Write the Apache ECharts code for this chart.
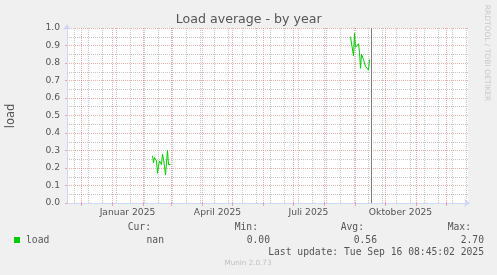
<!DOCTYPE html>
<html><head><meta charset="utf-8">
<script src="https://cdn.jsdelivr.net/npm/echarts@6/dist/echarts.min.js"></script>
<style>html,body{margin:0;padding:0;background:#f0f0f0}#c{width:497px;height:275px}</style>
</head><body><div id="c"></div>
<script>
// ---------- data ----------
const axisStart = '2024-11-17';
const axisEnd = '2025-12-23';
const monthStarts = ['2024-12-01','2025-01-01','2025-02-01','2025-03-01','2025-04-01','2025-05-01','2025-06-01',
  '2025-07-01','2025-08-01','2025-09-01','2025-10-01','2025-11-01','2025-12-01'];
const biweekly = ['2024-11-24','2024-12-08','2024-12-22','2025-01-05','2025-01-19','2025-02-02','2025-02-16',
  '2025-03-02','2025-03-16','2025-03-30','2025-04-13','2025-04-27','2025-05-11','2025-05-25','2025-06-08',
  '2025-06-22','2025-07-06','2025-07-20','2025-08-03','2025-08-17','2025-08-31','2025-09-14','2025-09-28',
  '2025-10-12','2025-10-26','2025-11-09','2025-11-23','2025-12-07','2025-12-21'];
const labelMonths = ['2025-01-01','2025-04-01','2025-07-01','2025-10-01'];
const labelTexts = ['Januar 2025','April 2025','Juli 2025','Oktober 2025'];
const seg1Start = '2025-02-10';
const seg1Values = [0.27,0.23,0.26,0.25,0.24,0.17,0.21,0.24,0.25,0.22,0.28,0.25,0.21,0.16,0.23,0.30,0.22,0.22,0.22];
const seg2Start = '2025-08-27';
const seg2Values = [0.95,0.96,0.94,0.84,0.97,0.89,0.90,0.90,0.91,0.86,0.77,0.85,0.84,0.82,0.80,0.78,0.77,0.77,0.76,0.82];
const lastUpdate = '2025-09-16T08:45:02Z';
const statNames = ['Cur:','Min:','Avg:','Max:'];
const statValues = ['nan','0.00','0.56','2.70'];
const seriesName = 'load';

// ---------- helpers ----------
const DAY = 86400000;
const t = s => Date.parse(s + 'T00:00:00Z');
const daily = (start, vals) => vals.map((v, i) => [t(start) + i * DAY, v]);
const labelVals = labelMonths.map(s => t(s) + 15 * DAY);
const xMin = t(axisStart) - DAY / 2;
const xMax = t(axisEnd) - DAY / 2;

const MAJ = 'rgba(222,79,79,0.45)';
const MIN = 'rgba(143,143,143,0.5)';
const TXT = '#555';
const AXIS = '#CFD6F8';
const SANS = 'DejaVu Sans';
const MONO = 'DejaVu Sans Mono';

const chart = echarts.init(document.getElementById('c'), null, {renderer: 'canvas'});
const statX = [150, 257, 363, 470];
const valX = [163, 269, 376, 483];
const graphic = [
  {type: 'text', x: 248.7, y: 20, style: {text: 'Load average - by year', fill: TXT, font: '12.6px ' + SANS, align: 'center', verticalAlign: 'middle'}},
  {type: 'text', x: 11, y: 116, rotation: Math.PI / 2, style: {text: 'load', fill: TXT, font: '11.5px ' + SANS, align: 'center', verticalAlign: 'middle'}},
  {type: 'text', x: 487, y: 53, rotation: -Math.PI / 2, style: {text: 'RRDTOOL / TOBI OETIKER', fill: '#c8c8c8', font: '7.5px ' + SANS, align: 'center', verticalAlign: 'middle'}},
  {type: 'rect', shape: {x: 14, y: 237, width: 6, height: 6}, style: {fill: '#00CC00'}},
  {type: 'text', x: 26, y: 240, style: {text: seriesName, fill: TXT, font: '9.7px ' + MONO, align: 'left', verticalAlign: 'middle'}},
  {type: 'text', x: 484, y: 252.5, style: {text: 'Last update: Tue Sep 16 08:45:02 2025', fill: TXT, font: '9.7px ' + MONO, align: 'right', verticalAlign: 'middle'}},
  {type: 'text', x: 248, y: 263, style: {text: 'Munin 2.0.73', fill: '#c0c0c0', font: '7.2px ' + SANS, align: 'center', verticalAlign: 'middle'}}
];
statNames.forEach((s, i) => {
  graphic.push({type: 'text', x: statX[i] + 1, y: 227.5, style: {text: s, fill: TXT, font: '9.7px ' + MONO, align: 'right', verticalAlign: 'middle'}});
  graphic.push({type: 'text', x: valX[i] + 1, y: 240, style: {text: statValues[i], fill: TXT, font: '9.7px ' + MONO, align: 'right', verticalAlign: 'middle'}});
});

const lineStyle = {color: '#00CC00', width: 1};
chart.setOption({
  animation: false,
  backgroundColor: '#f0f0f0',
  grid: {left: 67, top: 28, right: 29, bottom: 72, show: true, backgroundColor: '#ffffff', borderWidth: 0, containLabel: false},
  xAxis: [{
    type: 'value', position: 'bottom', min: xMin, max: xMax,
    axisLine: {show: true, lineStyle: {color: AXIS, width: 1}, symbol: ['none', 'arrow'], symbolSize: [6, 6], symbolOffset: [0, 2]},
    axisTick: {show: true, length: 3, inside: false, lineStyle: {color: MAJ}, customValues: monthStarts.map(t)},
    axisLabel: {show: true, customValues: labelVals, margin: 5, color: TXT, fontFamily: SANS, fontSize: 9.2,
      formatter: v => { const i = labelVals.indexOf(v); return i >= 0 ? labelTexts[i] : ''; }},
    splitLine: {show: true, lineStyle: {color: MAJ, type: [1, 1], width: 1}}
  }, {
    type: 'value', position: 'top', min: xMin, max: xMax,
    axisLine: {show: false}, axisLabel: {show: false},
    axisTick: {show: false, customValues: biweekly.map(t)},
    splitLine: {show: true, lineStyle: {color: MIN, type: [1, 1], width: 1}}
  }],
  yAxis: {
    type: 'value', min: 0, max: 1, interval: 0.1,
    axisLine: {show: true, lineStyle: {color: AXIS, width: 1}, symbol: ['none', 'arrow'], symbolSize: [6, 6], symbolOffset: [0, 4]},
    axisTick: {show: true, length: 2, lineStyle: {color: MAJ}},
    minorTick: {show: false, splitNumber: 2},
    minorSplitLine: {show: true, lineStyle: {color: MIN, type: [1, 1], width: 1}},
    splitLine: {show: true, lineStyle: {color: MAJ, type: [1, 1], width: 1}},
    axisLabel: {color: TXT, fontFamily: SANS, fontSize: 9.2, margin: 7, formatter: v => v.toFixed(1)}
  },
  series: [{
    name: seriesName, type: 'line', xAxisIndex: 0, data: daily(seg1Start, seg1Values), showSymbol: false, lineStyle
  }, {
    name: seriesName, type: 'line', xAxisIndex: 0, data: daily(seg2Start, seg2Values), showSymbol: false, lineStyle,
    markLine: {silent: true, symbol: 'none', label: {show: false}, lineStyle: {color: '#808080', type: 'solid', width: 1},
      data: [{xAxis: Date.parse(lastUpdate)}]}
  }],
  graphic
});
</script></body></html>
